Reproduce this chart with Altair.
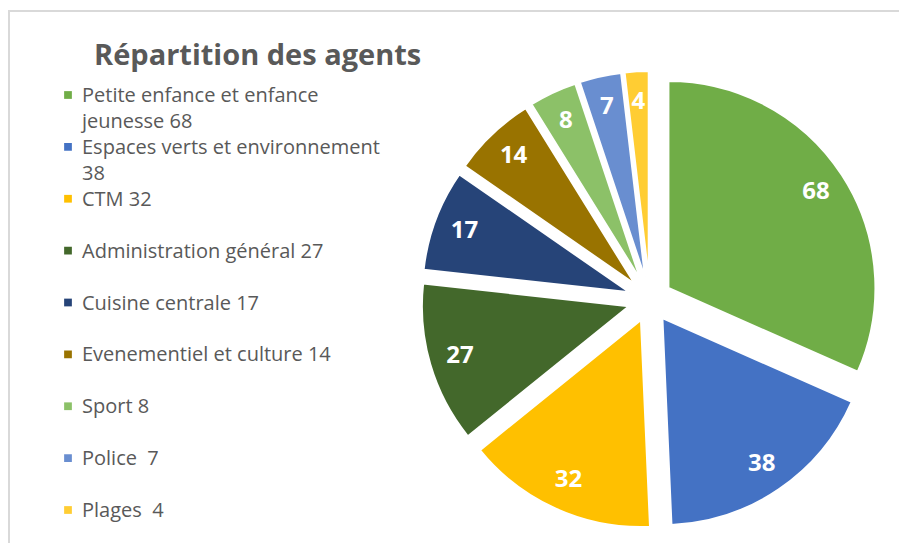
import altair as alt
import pandas as pd

# ---- data ----
categories = [
    "Petite enfance et enfance jeunesse",
    "Espaces verts et environnement",
    "CTM",
    "Administration général",
    "Cuisine centrale",
    "Evenementiel et culture",
    "Sport",
    "Police",
    "Plages",
]
values = [68, 38, 32, 27, 17, 14, 8, 7, 4]
legend_labels = [
    "Petite enfance et enfance\njeunesse 68",
    "Espaces verts et environnement\n38",
    "CTM 32",
    "Administration général 27",
    "Cuisine centrale 17",
    "Evenementiel et culture 14",
    "Sport 8",
    "Police \u00a07",
    "Plages \u00a04",
]
colors = ["#70AD47", "#4472C4", "#FFC000", "#43682B", "#264478",
          "#997300", "#8CC168", "#698ED0", "#FFCD33"]
title_text = "Répartition des agents"

df = pd.DataFrame({
    "cat": categories,
    "value": values,
    "legend": legend_labels,
    "order": list(range(len(values))),
})

# ---- layout constants ----
W, H = 891, 535
CX, CY, R, EXPLODE = 642, 292, 207, 22
LABEL_R = 176
FONT = "Open Sans"
GREY = "#595959"

color_enc = alt.Color("cat:N", scale=alt.Scale(domain=categories, range=colors), legend=None)

pie_base = (
    alt.Chart(df)
    .transform_joinaggregate(total="sum(value)")
    .transform_window(cum="sum(value)", sort=[alt.SortField("order")], frame=[None, 0])
    .transform_calculate(
        t1="datum.cum / datum.total * 2 * PI",
        t0="(datum.cum - datum.value) / datum.total * 2 * PI",
    )
    .transform_calculate(mid="(datum.t0 + datum.t1) / 2")
    .transform_calculate(
        ox=f"{CX} + {EXPLODE} * sin(datum.mid)",
        oy=f"{CY} - {EXPLODE} * cos(datum.mid)",
    )
)

arcs = pie_base.mark_arc(outerRadius=R, stroke="white", strokeWidth=2).encode(
    x=alt.X("ox:Q", scale=None, axis=None),
    y=alt.Y("oy:Q", scale=None, axis=None),
    theta=alt.Theta("t0:Q", scale=None, stack=None),
    theta2="t1:Q",
    color=color_enc,
)

labels = pie_base.mark_text(
    radius=LABEL_R, font=FONT, fontSize=24, fontWeight="bold", color="white"
).encode(
    x=alt.X("ox:Q", scale=None, axis=None),
    y=alt.Y("oy:Q", scale=None, axis=None),
    theta=alt.Theta("mid:Q", scale=None, stack=None),
    text="value:Q",
)

leg_y = alt.Y(
    "legend:N",
    sort=legend_labels,
    scale=alt.Scale(type="point", range=[87, 502], padding=0),
    axis=None,
)

leg_sym = alt.Chart(df).mark_square(size=60, opacity=1).encode(
    x=alt.value(60), y=leg_y, color=color_enc
)

leg_txt = alt.Chart(df).mark_text(
    align="left", baseline="alphabetic", dy=7, font=FONT, fontSize=20,
    color=GREY, lineBreak="\n", lineHeight=26,
).encode(x=alt.value(74), y=leg_y, text="legend:N")

title = alt.Chart(pd.DataFrame({"t": [title_text]})).mark_text(
    align="left", baseline="middle", font=FONT, fontSize=29, fontWeight="bold", color=GREY
).encode(x=alt.value(86), y=alt.value(48), text="t:N")

border_df = pd.DataFrame({"k": [0]})
top_rule = alt.Chart(border_df).mark_rule(color="#d9d9d9", strokeWidth=2).encode(
    x=alt.value(0), x2=alt.value(W), y=alt.value(3)
)
left_rule = alt.Chart(border_df).mark_rule(color="#d9d9d9", strokeWidth=2).encode(
    x=alt.value(1), y=alt.value(3), y2=alt.value(H)
)

chart = (
    alt.layer(top_rule, left_rule, arcs, labels, leg_sym, leg_txt, title)
    .resolve_scale(x="independent", y="independent")
    .properties(width=W, height=H, padding=0, autosize="none", background="white")
    .configure_view(stroke=None)
)

chart.save("out.html", embed_options={"renderer": "svg", "actions": False})
